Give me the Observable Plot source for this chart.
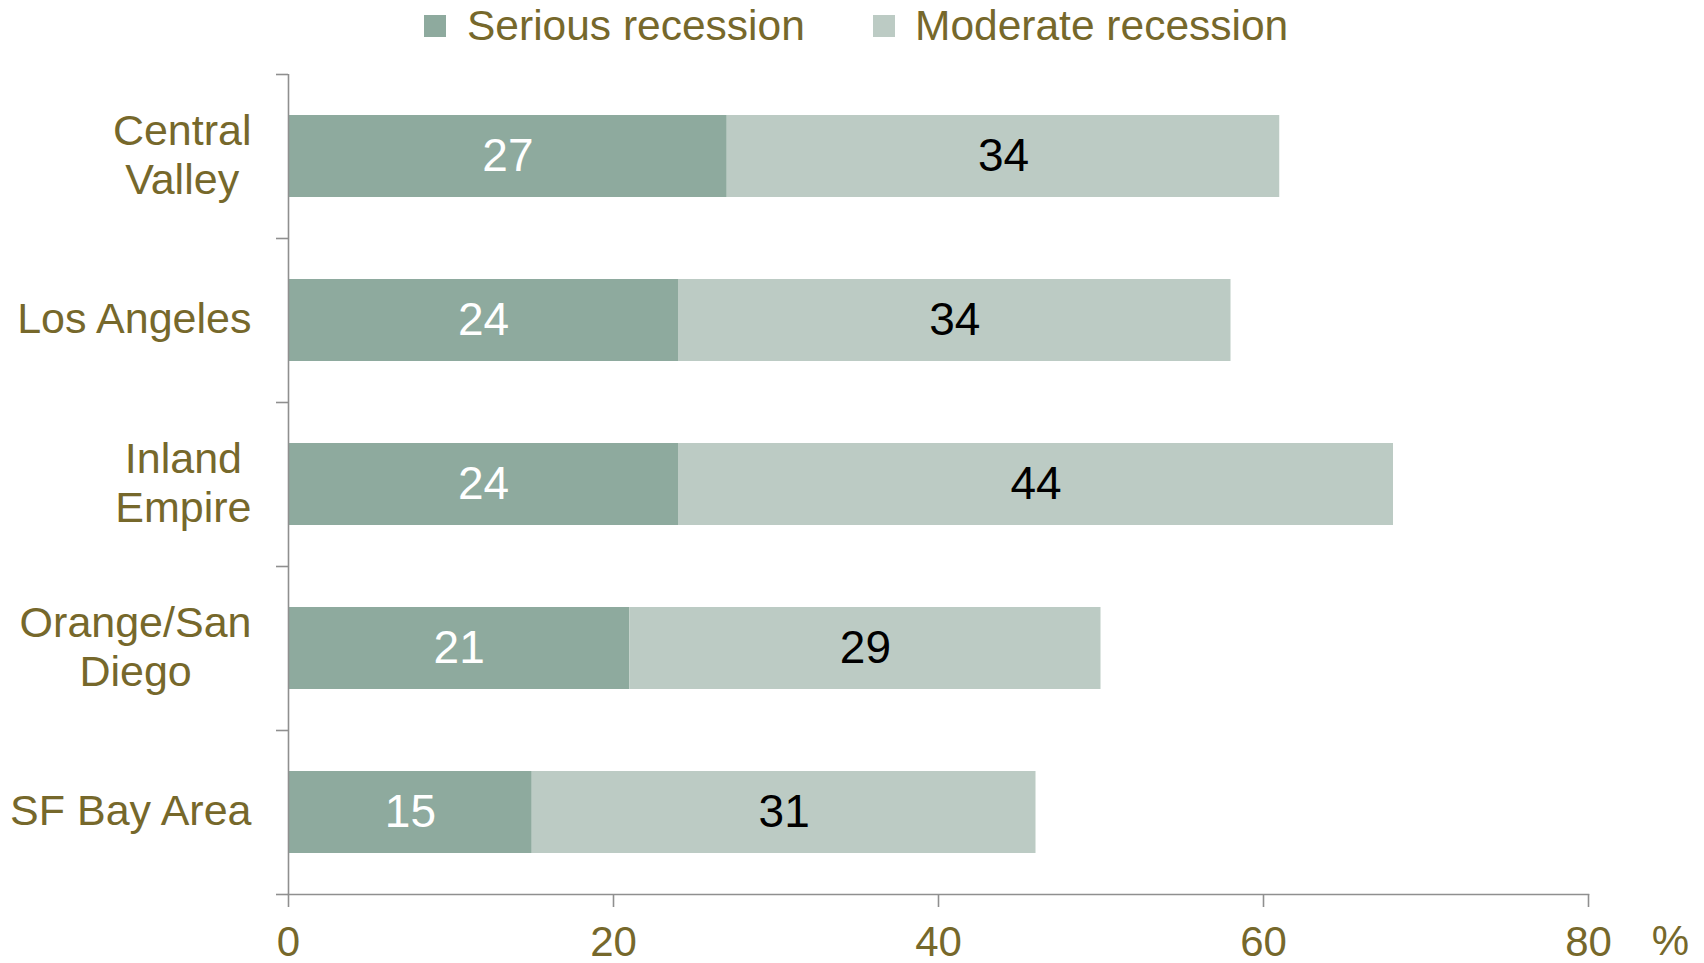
<!DOCTYPE html>
<html>
<head>
<meta charset="utf-8">
<script src="https://cdn.jsdelivr.net/npm/d3@7"></script>
<script src="https://cdn.jsdelivr.net/npm/@observablehq/plot@0.6"></script>
<style>
  html, body { margin: 0; padding: 0; background: #fff; }
  body { width: 1704px; height: 963px; overflow: hidden; font-family: "Liberation Sans", Arial, sans-serif; }
  #legend { position: relative; height: 60px; width: 1704px; }
  .sw { position: absolute; top: 15px; width: 22px; height: 22px; }
  .lt { position: absolute; top: 0px; font-size: 42.5px; line-height: 52px; color: #76682b; white-space: nowrap; }
</style>
</head>
<body>
<div id="legend"></div>
<div id="chart"></div>
<script>
// ---- data ----
const regions = ["Central Valley", "Los Angeles", "Inland Empire", "Orange/San Diego", "SF Bay Area"];
const regionLabels = ["Central\nValley", "Los Angeles", "Inland\nEmpire", "Orange/San\nDiego", "SF Bay Area"];
const seriesNames = ["Serious recession", "Moderate recession"];
const serious = [27, 24, 24, 21, 15];
const moderate = [34, 34, 44, 29, 31];
const xTicks = [0, 20, 40, 60, 80];

// ---- style ----
const colors = ["#8eaa9e", "#bccbc4"];
const olive = "#76682b";
const gray = "#8f8f8f";

const rows = [];
regions.forEach((r, i) => {
  rows.push({region: r, series: seriesNames[0], value: serious[i]});
  rows.push({region: r, series: seriesNames[1], value: moderate[i]});
});
const labelOf = new Map(regions.map((r, i) => [r, regionLabels[i]]));

// legend
const legend = document.getElementById("legend");
const legendPos = [[424, 467], [873, 915]];
seriesNames.forEach((s, i) => {
  const sw = document.createElement("div");
  sw.className = "sw"; sw.style.left = legendPos[i][0] + "px"; sw.style.background = colors[i];
  const t = document.createElement("div");
  t.className = "lt"; t.style.left = legendPos[i][1] + "px"; t.textContent = s;
  legend.appendChild(sw); legend.appendChild(t);
});

const W = 1704, H = 903, mt = 14, mb = 69, ml = 288, mr = 116;
const step = (H - mt - mb) / regions.length;

const chart = Plot.plot({
  width: W, height: H,
  marginTop: mt, marginBottom: mb, marginLeft: ml, marginRight: mr,
  style: {fontFamily: "Liberation Sans, Arial, sans-serif", background: "white", overflow: "visible"},
  x: {domain: [0, 80], axis: null},
  y: {domain: regions, paddingInner: 0.5, paddingOuter: 0.25, axis: null},
  color: {domain: seriesNames, range: colors},
  marks: [
    Plot.barX(rows, Plot.stackX({x: "value", y: "region", fill: "series"})),
    Plot.text(rows, Plot.stackX({x: "value", y: "region", text: d => d.series === seriesNames[0] ? String(d.value) : "", fill: "white", fontSize: 46, lineAnchor: "middle"})),
    Plot.text(rows, Plot.stackX({x: "value", y: "region", text: d => d.series === seriesNames[1] ? String(d.value) : "", fill: "black", fontSize: 46, lineAnchor: "middle"})),
    // y axis line
    Plot.ruleX([0], {stroke: gray, strokeWidth: 1.6}),
    // band boundary ticks on y axis
    Plot.ruleY(regions, {y: d => d, x1: -12 / 16.25, x2: 0, dy: -step / 2, stroke: gray, strokeWidth: 1.6}),
    Plot.ruleY([regions[regions.length - 1]], {y: d => d, x1: -12 / 16.25, x2: 0, dy: step / 2, stroke: gray, strokeWidth: 1.6}),
    // x axis
    Plot.frame({anchor: "bottom", stroke: gray, strokeWidth: 1.6}),
    Plot.axisX({ticks: xTicks, tickSize: 13, tickPadding: 19, fontSize: 42, stroke: gray, fill: olive, strokeWidth: 1.6, label: null, tickFormat: d => String(d)}),
    Plot.text(["%"], {frameAnchor: "bottom-right", dx: 82, dy: 47, textAnchor: "middle", lineAnchor: "middle", text: d => d, fontSize: 42, fill: olive}),
    // category labels
    Plot.text(regions, {y: d => d, frameAnchor: "left", dx: -37, dy: -3, textAnchor: "end", lineAnchor: "middle", text: d => labelOf.get(d), fontSize: 43, lineHeight: 1.14, fill: olive})
  ]
});
document.getElementById("chart").appendChild(chart);

// center multi-line category labels within their block (block stays right-aligned)
chart.querySelectorAll("text").forEach(t => {
  const spans = t.querySelectorAll("tspan");
  if (spans.length > 1) {
    const w = Math.max(...Array.from(spans, s => s.getComputedTextLength()));
    t.setAttribute("text-anchor", "middle");
    t.style.textAnchor = "middle";
    spans.forEach(s => { s.setAttribute("x", -w / 2); s.setAttribute("text-anchor", "middle"); s.style.textAnchor = "middle"; });
  }
});
</script>
</body>
</html>
